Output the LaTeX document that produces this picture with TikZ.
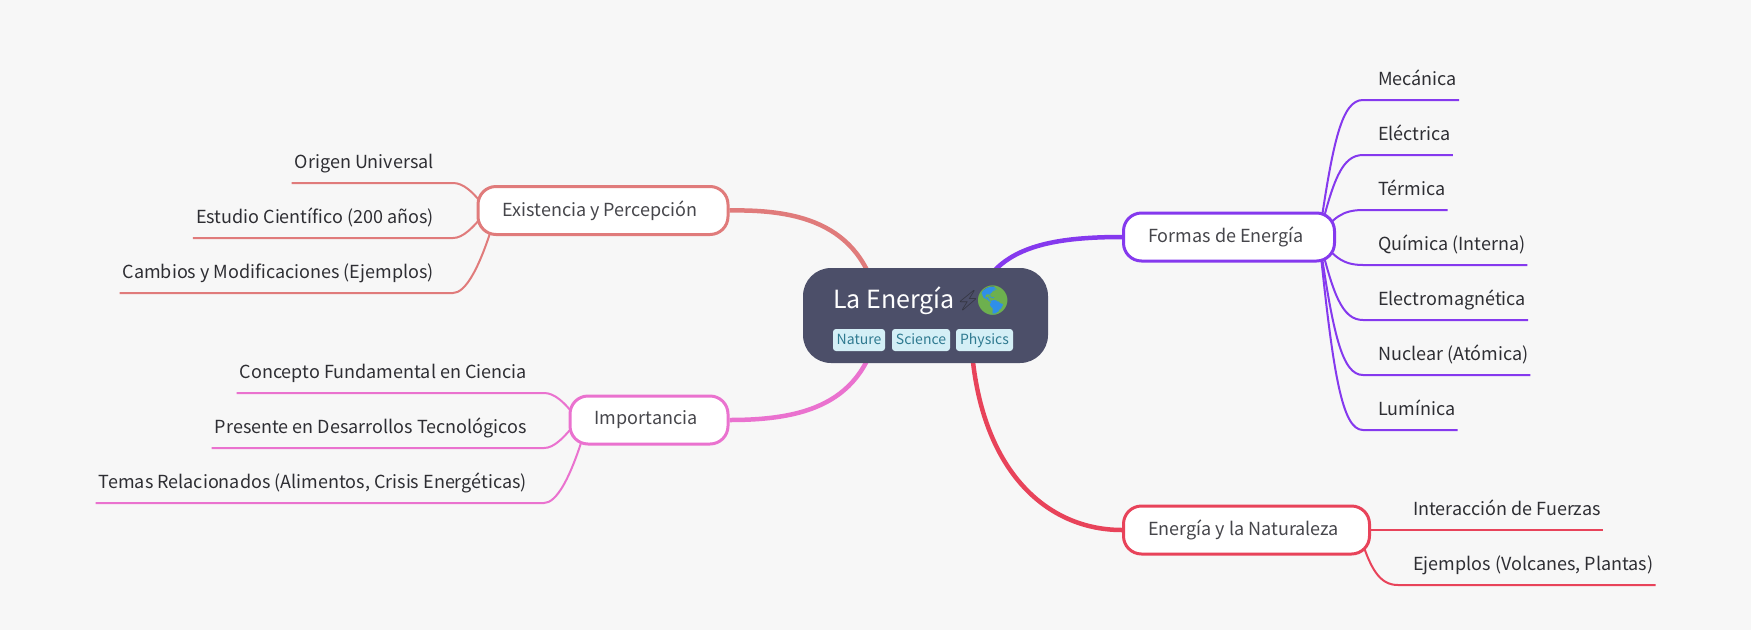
\documentclass[tikz,border=0pt]{standalone}
\usepackage{fontspec}
\setmainfont{Noto Sans CJK SC}
\newfontfamily\emojifont{Noto Emoji}
\definecolor{bgc}{HTML}{F7F7F7}
\definecolor{rootc}{HTML}{4C4F69}
\definecolor{purp}{HTML}{8539EE}
\definecolor{redc}{HTML}{E8435A}
\definecolor{salm}{HTML}{E07B7B}
\definecolor{pink}{HTML}{EA72CF}
\definecolor{leaft}{HTML}{2E2E33}
\definecolor{brt}{HTML}{46464B}
\definecolor{tagf}{HTML}{D4EFF6}
\definecolor{tagt}{HTML}{2F7A90}
\definecolor{globeb}{HTML}{2F8FE8}
\definecolor{globeg}{HTML}{6DB04E}
\definecolor{boltc}{HTML}{33343F}
\pgfdeclarelayer{back}
\pgfdeclarelayer{bg}
\pgfsetlayers{back,bg,main}
\tikzset{
  x=1pt,y=-1pt,
  branch/.style={draw=#1,fill=white,line width=3pt,rounded corners=18pt,text=brt,inner sep=0pt,minimum height=48pt,font=\fontsize{18}{22}\selectfont},
  leaf/.style={text=leaft,inner sep=0pt,text height=15pt,text depth=14pt,font=\fontsize{18}{22}\selectfont},
  leafR/.style={leaf,anchor=south west},
  leafL/.style={leaf,anchor=south east},
  tagbox/.style={fill=tagf,text=tagt,rounded corners=3pt,inner sep=0pt,minimum height=22pt,text height=12pt,text depth=3pt,font=\fontsize{14}{16}\selectfont},
  trunk/.style={draw=#1,line width=4.5pt},
  twig/.style={draw=#1,line width=2pt},
}
\begin{document}
\begin{tikzpicture}
\begin{pgfonlayer}{back}
\useasboundingbox[fill=bgc] (0,0) rectangle (1751,630);
\end{pgfonlayer}
% root
\node[fill=rootc,rounded corners=28pt,minimum width=245pt,minimum height=95pt,inner sep=0pt] (root) at (925.5,315.5) {};
\node[text=white,inner sep=0pt,anchor=base west,font=\fontsize{25}{30}\selectfont] (title) at (833,308) {La Energía};
\node[text=boltc,inner sep=0pt,font=\emojifont\fontsize{20}{22}\selectfont] (bolt) at (968,300.5) {⚡};
\node[fill=globeb,circle,inner sep=0pt,minimum size=28pt] (globedisc) at (992.7,300.5) {};
\node[text=globeg,inner sep=0pt,font=\emojifont\fontsize{29}{30}\selectfont] (globe) at (992.7,300.5) {🌎};
\node[tagbox,minimum width=52pt] (t1) at (859,340) {Nature};
\node[tagbox,minimum width=58pt] (t2) at (921,340) {Science};
\node[tagbox,minimum width=57pt] (t3) at (984.5,340) {Physics};
% branches
\node[branch=purp,minimum width=211pt] (formas) at (1229,237) {\hspace*{-6pt}Formas de Energía};
\node[branch=redc,minimum width=246pt] (natur) at (1246.5,530) {\hspace*{-6pt}Energía y la Naturaleza};
\node[branch=salm,minimum width=250pt] (exist) at (603,210.5) {\hspace*{-6pt}Existencia y Percepción};
\node[branch=pink,minimum width=158pt] (impor) at (649,420) {\hspace*{-6pt}Importancia};
% leaves
\node[leafR] (f1) at (1363,100) {\hspace*{15pt}Mecánica\hspace*{2pt}};
\node[leafR] (f2) at (1363,155) {\hspace*{15pt}Eléctrica\hspace*{2pt}};
\node[leafR] (f3) at (1363,210) {\hspace*{15pt}Térmica\hspace*{2pt}};
\node[leafR] (f4) at (1363,265) {\hspace*{15pt}Química (Interna)\hspace*{2pt}};
\node[leafR] (f5) at (1363,320) {\hspace*{15pt}Electromagnética\hspace*{2pt}};
\node[leafR] (f6) at (1363,375) {\hspace*{15pt}Nuclear (Atómica)\hspace*{2pt}};
\node[leafR] (f7) at (1363,430) {\hspace*{15pt}Lumínica\hspace*{2pt}};
\node[leafR] (n1) at (1398,530) {\hspace*{15pt}Interacción de Fuerzas\hspace*{2pt}};
\node[leafR] (n2) at (1398,585) {\hspace*{15pt}Ejemplos (Volcanes, Plantas)\hspace*{2pt}};
\node[leafL] (e1) at (453,183) {\hspace*{3pt}Origen Universal\hspace*{19pt}};
\node[leafL] (e2) at (453,238) {\hspace*{3pt}Estudio Científico (200 años)\hspace*{19pt}};
\node[leafL] (e3) at (453,293) {\hspace*{3pt}Cambios y Modificaciones (Ejemplos)\hspace*{19pt}};
\node[leafL] (i1) at (544,393) {\hspace*{3pt}Concepto Fundamental en Ciencia\hspace*{17pt}};
\node[leafL] (i2) at (544,448) {\hspace*{3pt}Presente en Desarrollos Tecnológicos\hspace*{17pt}};
\node[leafL] (i3) at (544,503) {\hspace*{3pt}Temas Relacionados (Alimentos, Crisis Energéticas)\hspace*{17pt}};
\begin{pgfonlayer}{bg}
\draw[trunk=purp] ([xshift=45pt]root.center) .. controls (987,255) and (1030,237) .. (formas.west);
\draw[trunk=salm] ([xshift=-45pt]root.center) .. controls (868,230) and (810,209) .. (exist.east);
\draw[trunk=pink] ([xshift=-45pt]root.center) .. controls (868,401) and (810,420) .. (impor.east);
\draw[trunk=redc] ([xshift=45pt]root.center) .. controls (970,460) and (1040,530) .. (natur.west);
\foreach \n/\a/\b in {f1/140/100,f2/180/155,f3/218/210,f4/256/265,f5/294/320,f6/334/375,f7/374/430}
  \draw[twig=purp] ([xshift=90pt]formas.center) .. controls (1333,\a) and (1342,\b) .. (\n.south west) -- (\n.south east);
\draw[twig=redc] ([xshift=100pt]natur.center) -- (n1.south west) -- (n1.south east);
\draw[twig=redc] ([xshift=112pt]natur.center) .. controls (1370,570) and (1380,585) .. (n2.south west) -- (n2.south east);
\foreach \n/\a/\b in {e1/191/183,e2/228/238}
  \draw[twig=salm] ([xshift=-116pt]exist.center) .. controls (473,\a) and (463,\b) .. (\n.south east) -- (\n.south west);
\draw[twig=salm] ([xshift=-106pt]exist.center) .. controls (480,270) and (465,293) .. (e3.south east) -- (e3.south west);
\foreach \n/\a/\b in {i1/401/393,i2/438/448}
  \draw[twig=pink] ([xshift=-71pt]impor.center) .. controls (564,\a) and (554,\b) .. (\n.south east) -- (\n.south west);
\draw[twig=pink] ([xshift=-61pt]impor.center) .. controls (571,480) and (556,503) .. (i3.south east) -- (i3.south west);
\end{pgfonlayer}
\end{tikzpicture}
\end{document}
